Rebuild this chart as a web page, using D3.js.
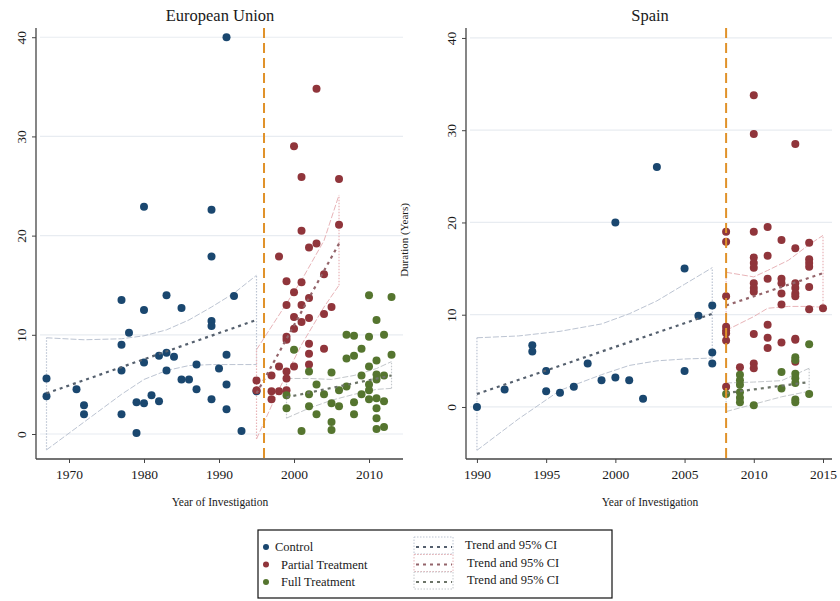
<!DOCTYPE html>
<html><head><meta charset="utf-8">
<script src="https://cdn.jsdelivr.net/npm/d3@7"></script>
<style>body{margin:0;background:#fff}svg{display:block}text{font-family:"Liberation Serif","DejaVu Serif",serif;fill:#1a1a1a}</style>
</head><body>
<script>
// ---------------- DATA ----------------
const euControl = [[1967,5.6],[1967,3.8],[1971,4.5],[1972,2.9],[1972,2.0],[1977,13.5],[1977,9.0],[1977,6.4],[1977,2.0],[1978,10.2],[1979,0.1],[1979,3.2],[1980,22.9],[1980,12.5],[1980,7.2],[1980,3.1],[1981,3.9],[1982,7.9],[1982,3.3],[1983,14.0],[1983,8.2],[1983,6.4],[1984,7.8],[1985,12.7],[1985,5.5],[1986,5.5],[1987,7.0],[1987,4.5],[1989,22.6],[1989,17.9],[1989,11.4],[1989,10.9],[1989,3.5],[1990,6.6],[1991,40.0],[1991,8.0],[1991,5.0],[1991,2.5],[1992,13.9],[1993,0.3],[1995,4.3]];
const euPartial = [[1995,5.4],[1995,4.4],[1997,5.9],[1997,4.3],[1997,3.5],[1998,17.9],[1998,6.8],[1998,4.3],[1999,15.4],[1999,13.0],[1999,9.8],[1999,9.5],[1999,6.3],[1999,5.6],[1999,4.4],[2000,29.0],[2000,14.3],[2000,11.8],[2000,10.6],[2000,6.8],[2001,25.9],[2001,20.5],[2001,15.3],[2001,13.0],[2001,11.3],[2002,18.8],[2002,13.7],[2002,11.7],[2002,9.1],[2002,8.1],[2002,7.0],[2003,34.8],[2003,19.2],[2004,16.1],[2004,12.1],[2004,8.6],[2005,12.8],[2006,25.7],[2006,21.1]];
const euFull = [[1999,3.9],[1999,2.6],[2000,8.5],[2001,0.3],[2002,6.3],[2002,4.0],[2002,2.8],[2003,5.0],[2003,2.0],[2004,4.0],[2005,6.2],[2005,3.1],[2005,1.2],[2005,0.4],[2006,4.4],[2006,2.8],[2007,10.0],[2007,7.6],[2007,4.8],[2008,9.9],[2008,7.9],[2008,3.2],[2008,2.0],[2009,8.6],[2009,5.9],[2009,4.0],[2010,14.0],[2010,9.8],[2010,6.8],[2010,5.0],[2010,4.4],[2010,3.5],[2011,11.5],[2011,7.4],[2011,6.0],[2011,5.5],[2011,3.6],[2011,2.6],[2011,1.6],[2011,0.5],[2012,10.0],[2012,5.9],[2012,3.3],[2012,0.7],[2013,13.8],[2013,8.0]];

const esControl = [[1990,0.0],[1992,1.9],[1994,6.7],[1994,6.0],[1995,3.9],[1995,1.7],[1996,1.55],[1997,2.2],[1998,4.7],[1999,2.9],[2000,20.0],[2000,3.2],[2001,2.9],[2002,0.9],[2003,26.0],[2005,15.0],[2005,3.9],[2006,9.9],[2007,11.0],[2007,5.9],[2007,4.7]];
const esPartial = [[2008,19.0],[2008,17.9],[2008,12.0],[2008,8.7],[2008,8.3],[2008,8.0],[2008,7.2],[2008,2.2],[2009,4.3],[2010,33.8],[2010,29.6],[2010,19.0],[2010,16.2],[2010,15.6],[2010,15.1],[2010,13.4],[2010,12.9],[2010,12.5],[2010,7.9],[2010,4.7],[2010,4.2],[2011,19.5],[2011,16.4],[2011,13.9],[2011,8.9],[2011,7.5],[2011,6.4],[2012,18.1],[2012,13.9],[2012,13.4],[2012,12.3],[2012,11.1],[2012,7.0],[2013,28.5],[2013,17.2],[2013,13.4],[2013,12.9],[2013,12.3],[2013,12.0],[2013,7.4],[2013,7.3],[2013,4.9],[2014,17.8],[2014,16.0],[2014,15.6],[2014,15.2],[2014,13.0],[2014,10.6],[2015,10.7]];
const esFull = [[2008,1.4],[2009,3.5],[2009,2.9],[2009,2.4],[2009,1.6],[2009,1.0],[2009,0.5],[2010,0.2],[2012,3.8],[2012,2.0],[2013,5.4],[2013,5.1],[2013,3.6],[2013,3.1],[2013,2.6],[2013,0.8],[2013,0.5],[2014,6.8],[2014,1.4]];

// trend lines [year, value]
const euControlTrend = [[1967,4.1],[1995,11.5]];
const euPartialTrend = [[1995,4.1],[2006,19.2]];
const euFullTrend = [[1999,3.7],[2013,5.9]];
const esControlTrend = [[1990,1.4],[2007,10.1]];
const esPartialTrend = [[2008,11.0],[2015,14.5]];
const esFullTrend = [[2008,1.5],[2014,2.7]];

// 95% CI bands [year, lower, upper]
const euControlCI = [[1967,-1.6,9.7],[1972,1.2,9.5],[1977,4.0,9.6],[1980,5.5,9.9],[1983,6.4,10.5],[1986,6.9,11.5],[1989,7.0,12.8],[1992,7.0,14.2],[1995,7.0,16.0]];
const euPartialCI = [[1995,-0.5,8.5],[1998,4.5,12.0],[2001,9.0,15.5],[2004,12.8,19.5],[2006,15.0,24.1]];
const euFullCI = [[1999,1.6,5.6],[2002,2.6,5.6],[2005,3.4,5.5],[2008,4.0,5.9],[2011,4.5,6.6],[2013,4.6,7.3]];
const esControlCI = [[1990,-4.7,7.5],[1993,-1.3,7.7],[1996,1.8,8.2],[1999,3.5,9.0],[2001,4.5,10.1],[2003,5.0,11.5],[2005,5.2,13.3],[2007,5.3,15.1]];
const esPartialCI = [[2008,8.3,14.6],[2010,9.8,14.1],[2011,10.7,14.8],[2012.5,10.9,15.9],[2014,10.9,17.6],[2015,10.8,18.6]];
const esFullCI = [[2008,-0.5,2.6],[2010,0.3,2.7],[2012,1.1,2.85],[2014,1.7,4.2]];

const yTicks = [0,10,20,30,40];
const euXTicks = [1970,1980,1990,2000,2010];
const esXTicks = [1990,1995,2000,2005,2010,2015];
const euCutoff = 1996, esCutoff = 2008;
const titles = ["European Union","Spain"];
const xTitle = "Year of Investigation";
const yTitle = "Duration (Years)";
const legendGroups = ["Control","Partial Treatment","Full Treatment"];
const legendTrend = "Trend and 95% CI";

// ---------------- DRAW ----------------
const W=840,H=601;
const svg=d3.select("body").append("svg").attr("width",W).attr("height",H);
const col={c:"#1a476f",p:"#90353b",f:"#55752f"};
const trendCol={c:"#55606e",p:"#94646a",f:"#6c7468"};
const ciCol={c:"#bcc4d2",p:"#e8b4b8",f:"#c4c8cc"};

function panel(cfg){
  const g=svg.append("g");
  const x=d3.scaleLinear().domain(cfg.xd).range([cfg.l,cfg.r]);
  const y=d3.scaleLinear().domain(cfg.yd).range([cfg.b,cfg.t]);
  // grid
  g.selectAll(".grid").data(yTicks).enter().append("line")
    .attr("x1",cfg.l+4).attr("x2",cfg.r).attr("y1",d=>y(d)).attr("y2",d=>y(d))
    .attr("stroke","#e8ecf1").attr("stroke-width",1.2);
  // y axis
  const ya=g.append("g").attr("transform",`translate(${cfg.l},0)`)
    .call(d3.axisLeft(y).tickValues(yTicks).tickSize(4).tickPadding(4));
  ya.select(".domain").attr("stroke","#444").attr("stroke-width",1.3).attr("d",`M0,${cfg.t}V${cfg.b}`);
  ya.selectAll(".tick line").attr("stroke","#444");
  ya.selectAll(".tick text").attr("transform","rotate(-90)").attr("x",0).attr("y",-10).attr("dy","0")
    .attr("text-anchor","middle").style("font-size","13.5px").style("font-family","'Liberation Serif',serif").attr("fill","#1a1a1a");
  // x axis
  const xa=g.append("g").attr("transform",`translate(0,${cfg.b})`)
    .call(d3.axisBottom(x).tickValues(cfg.xt).tickFormat(d3.format("d")).tickSize(4).tickPadding(6));
  xa.select(".domain").attr("stroke","#444").attr("stroke-width",1.3).attr("d",`M${cfg.l},0H${cfg.r}`);
  xa.selectAll(".tick line").attr("stroke","#444");
  xa.selectAll(".tick text").style("font-size","13.5px").style("font-family","'Liberation Serif',serif").attr("fill","#1a1a1a");
  // titles
  g.append("text").attr("x",cfg.tx).attr("y",21).attr("text-anchor","middle").style("font-size","16.5px").text(cfg.title);
  g.append("text").attr("x",cfg.tx).attr("y",506).attr("text-anchor","middle").style("font-size","11.5px").text(xTitle);
  // CI bands
  const upper=d3.line().x(d=>x(d[0])).y(d=>y(d[2]));
  const lower=d3.line().x(d=>x(d[0])).y(d=>y(d[1]));
  cfg.groups.forEach(gr=>{
    const ci=gr.ci, k=gr.k;
    g.append("path").attr("d",upper(ci)).attr("fill","none").attr("stroke",ciCol[k]).attr("stroke-width",1).attr("stroke-dasharray","6,2");
    g.append("path").attr("d",lower(ci)).attr("fill","none").attr("stroke",ciCol[k]).attr("stroke-width",1).attr("stroke-dasharray","6,2");
    [ci[0],ci[ci.length-1]].forEach(e=>{
      g.append("line").attr("x1",x(e[0])).attr("x2",x(e[0])).attr("y1",y(e[1])).attr("y2",y(e[2]))
        .attr("stroke",ciCol[k]).attr("stroke-width",1.2).attr("stroke-dasharray","1.5,1.5");
    });
  });
  // points
  cfg.groups.forEach(gr=>{
    g.selectAll(null).data(gr.pts).enter().append("circle")
      .attr("cx",d=>x(d[0])).attr("cy",d=>y(d[1])).attr("r",4).attr("fill",col[gr.k]);
  });
  // trends
  cfg.groups.forEach(gr=>{
    g.append("path").attr("d",d3.line().x(d=>x(d[0])).y(d=>y(d[1]))(gr.trend))
      .attr("fill","none").attr("stroke",trendCol[gr.k]).attr("stroke-width",2.2).attr("stroke-dasharray","3,4");
  });
  // cutoff
  g.append("line").attr("x1",x(cfg.cut)).attr("x2",x(cfg.cut)).attr("y1",cfg.t).attr("y2",cfg.b)
    .attr("stroke","#e0922a").attr("stroke-width",2).attr("stroke-dasharray","10,5");
}

panel({l:36,r:403,t:28,b:459,xd:[1965.6,2014.53],yd:[-2.52,40.93],xt:euXTicks,tx:220,title:titles[0],cut:euCutoff,
  groups:[{k:"c",pts:euControl,trend:euControlTrend,ci:euControlCI},{k:"p",pts:euPartial,trend:euPartialTrend,ci:euPartialCI},{k:"f",pts:euFull,trend:euFullTrend,ci:euFullCI}]});
panel({l:466,r:832,t:28,b:459,xd:[1989.21,2015.65],yd:[-5.64,41.08],xt:esXTicks,tx:650,title:titles[1],cut:esCutoff,
  groups:[{k:"c",pts:esControl,trend:esControlTrend,ci:esControlCI},{k:"p",pts:esPartial,trend:esPartialTrend,ci:esPartialCI},{k:"f",pts:esFull,trend:esFullTrend,ci:esFullCI}]});

// y-axis title (as placed in the reference)
svg.append("text").attr("transform","translate(408,240) rotate(-90)").attr("text-anchor","middle").style("font-size","11px").text(yTitle);

// legend
const lg=svg.append("g");
lg.append("rect").attr("x",258).attr("y",530).attr("width",354).attr("height",68).attr("fill","#fff").attr("stroke","#111").attr("stroke-width",1.2);
const ks=["c","p","f"];
legendGroups.forEach((name,i)=>{
  const yy=548+i*17.5;
  lg.append("circle").attr("cx",266).attr("cy",yy-1).attr("r",3).attr("fill",col[ks[i]]);
  lg.append("text").attr("x",i===0?275:281).attr("y",yy+3).style("font-size","12.5px").text(name);
  lg.append("rect").attr("x",414).attr("y",yy-11).attr("width",39).attr("height",17).attr("fill","none")
    .attr("stroke",ciCol[ks[i]]).attr("stroke-width",1).attr("stroke-dasharray","1.5,1.5");
  lg.append("line").attr("x1",416).attr("x2",452).attr("y1",yy-1).attr("y2",yy-1)
    .attr("stroke",trendCol[ks[i]]).attr("stroke-width",2).attr("stroke-dasharray","3,4");
  lg.append("text").attr("x",i===0?465:467).attr("y",yy+1).style("font-size","12.5px").text(legendTrend);
});
</script>
</body></html>
